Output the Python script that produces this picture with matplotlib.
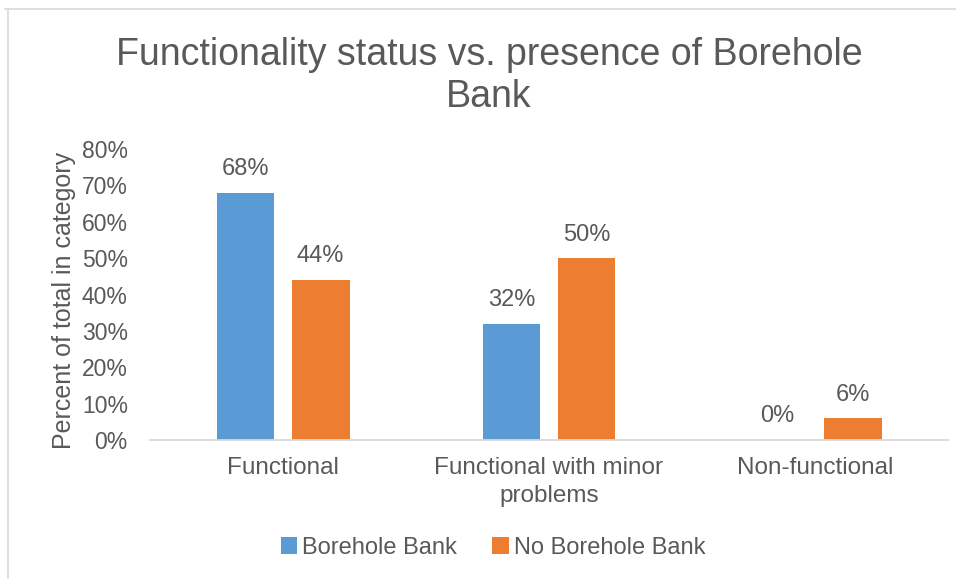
"""Functionality status vs. presence of Borehole Bank -> out.png."""

import matplotlib

matplotlib.use("Agg")

import matplotlib.pyplot as plt
from matplotlib.lines import Line2D
from matplotlib.ticker import FuncFormatter


categories = ["Functional", "Functional with minor\nproblems", "Non-functional"]
borehole_bank = [68, 32, 0]
no_borehole_bank = [44, 50, 6]
series_names = ["Borehole Bank", "No Borehole Bank"]
y_ticks = [0, 10, 20, 30, 40, 50, 60, 70, 80]

BLUE = "#5b9bd5"
ORANGE = "#ed7d31"
GREY = "#595959"

plt.rcParams["font.family"] = ["Liberation Sans", "DejaVu Sans"]


def main():
    W, H = 956, 579
    fig = plt.figure(figsize=(W / 100, H / 100), dpi=100)
    ax = fig.add_axes([150 / W, 139 / H, 798 / W, 291 / H])

    x = range(len(categories))
    width = 0.218
    off = 0.141
    b1 = ax.bar([i - off for i in x], borehole_bank, width, color=BLUE, label=series_names[0])
    b2 = ax.bar([i + off for i in x], no_borehole_bank, width, color=ORANGE, label=series_names[1])
    for bars, vals in ((b1, borehole_bank), (b2, no_borehole_bank)):
        ax.bar_label(bars, labels=[f"{v}%" for v in vals], padding=9,
                     fontsize=17, color=GREY)

    ax.set_xlim(-0.5, len(categories) - 0.5)
    ax.set_ylim(0, 80)
    ax.set_yticks(y_ticks)
    ax.yaxis.set_major_formatter(FuncFormatter(lambda v, _: f"{v:.0f}%"))
    ax.set_xticks(list(x))
    ax.set_xticklabels(categories, fontsize=17.5, color=GREY, linespacing=1.4)
    ax.tick_params(axis="y", length=0, pad=16, labelsize=16.5, labelcolor=GREY)
    ax.tick_params(axis="x", length=0, pad=12)

    for side in ("top", "right", "left"):
        ax.spines[side].set_visible(False)
    ax.spines["bottom"].set_color("#d9d9d9")
    ax.spines["bottom"].set_linewidth(1.3)

    ax.set_ylabel("Percent of total in category", fontsize=18, color=GREY, va="center")
    ax.yaxis.set_label_coords(-86 / 798, 0.478)

    fig.text(489 / W, 1 - 76 / H, "Functionality status vs. presence of Borehole\nBank",
             ha="center", va="center", fontsize=27, color=GREY, linespacing=1.22)

    fig.legend(handles=[b1, b2], labels=series_names, loc="center",
               bbox_to_anchor=(493 / W, 1 - 548 / H), ncol=2, frameon=False,
               fontsize=17, labelcolor=GREY,
               handlelength=0.7, handleheight=0.7, handletextpad=0.2,
               columnspacing=1.5)

    fig.add_artist(Line2D([5 / W, 1], [1 - 9 / H, 1 - 9 / H],
                          transform=fig.transFigure, color="#d9d9d9", lw=1.2))
    fig.add_artist(Line2D([8 / W, 8 / W], [0, 1 - 9 / H],
                          transform=fig.transFigure, color="#d9d9d9", lw=1.2))

    fig.savefig("out.png", dpi=100)


if __name__ == "__main__":
    main()
